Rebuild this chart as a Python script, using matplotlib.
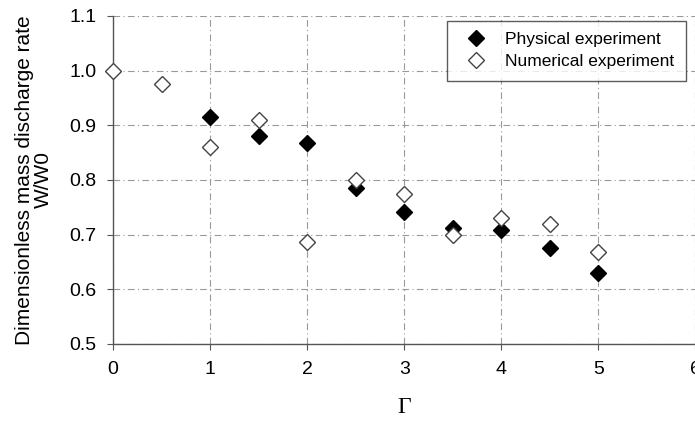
import matplotlib.pyplot as plt
import numpy as np

# values
gamma_phys = [1, 1.5, 2, 2.5, 3, 3.5, 4, 4.5, 5]
w_phys = [0.915, 0.880, 0.868, 0.785, 0.742, 0.712, 0.709, 0.675, 0.630]

gamma_num = [0, 0.5, 1, 1.5, 2, 2.5, 3, 3.5, 4, 4.5, 5]
w_num = [1.000, 0.976, 0.860, 0.910, 0.687, 0.800, 0.775, 0.700, 0.731, 0.720, 0.668]

x_ticks = [0, 1, 2, 3, 4, 5, 6]
y_ticks = [0.5, 0.6, 0.7, 0.8, 0.9, 1.0, 1.1]

plt.rcParams['font.family'] = ['Liberation Sans', 'DejaVu Sans']

fig = plt.figure(figsize=(6.95, 4.21), dpi=100)
ax = fig.add_axes([0.1626, 0.183, 0.838, 0.779])

ax.plot(gamma_phys, w_phys, linestyle='', marker='D', markersize=8.5,
        color='black', markeredgecolor='black', label='Physical experiment',
        zorder=3, clip_on=False)
ax.plot(gamma_num, w_num, linestyle='', marker='D', markersize=8.5,
        markerfacecolor='white', markeredgecolor='#444444', markeredgewidth=1,
        label='Numerical experiment', zorder=4, clip_on=False)

ax.set_xlim(0, 6)
ax.set_ylim(0.5, 1.1)
ax.set_xticks(x_ticks)
ax.set_yticks(y_ticks)
ax.set_yticklabels(['%.1f' % v for v in y_ticks])
ax.tick_params(labelsize=14, length=4, color='#555555', direction='out', pad=8)

ax.grid(True, linestyle=(0, (6, 3, 1, 3)), color='#999999', linewidth=0.8)
ax.set_axisbelow(True)
for side in ['top', 'right']:
    ax.spines[side].set_visible(False)
for side in ['left', 'bottom']:
    ax.spines[side].set_color('#555555')
    ax.spines[side].set_linewidth(1.0)

ax.set_xlabel('\u0393', family=['Liberation Serif'], fontsize=17, labelpad=14)
ax.set_ylabel('Dimensionless mass discharge rate\nW/W0', fontsize=15, labelpad=12,
              linespacing=1.0)

leg = ax.legend(loc='upper right', bbox_to_anchor=(0.983, 0.985), fontsize=12.5,
                frameon=True, fancybox=False, edgecolor='#333333', numpoints=1,
                borderpad=0.65, handletextpad=0.7, labelspacing=0.4,
                borderaxespad=0)
leg.get_frame().set_linewidth(1.0)

fig.savefig('out.png', dpi=100)
